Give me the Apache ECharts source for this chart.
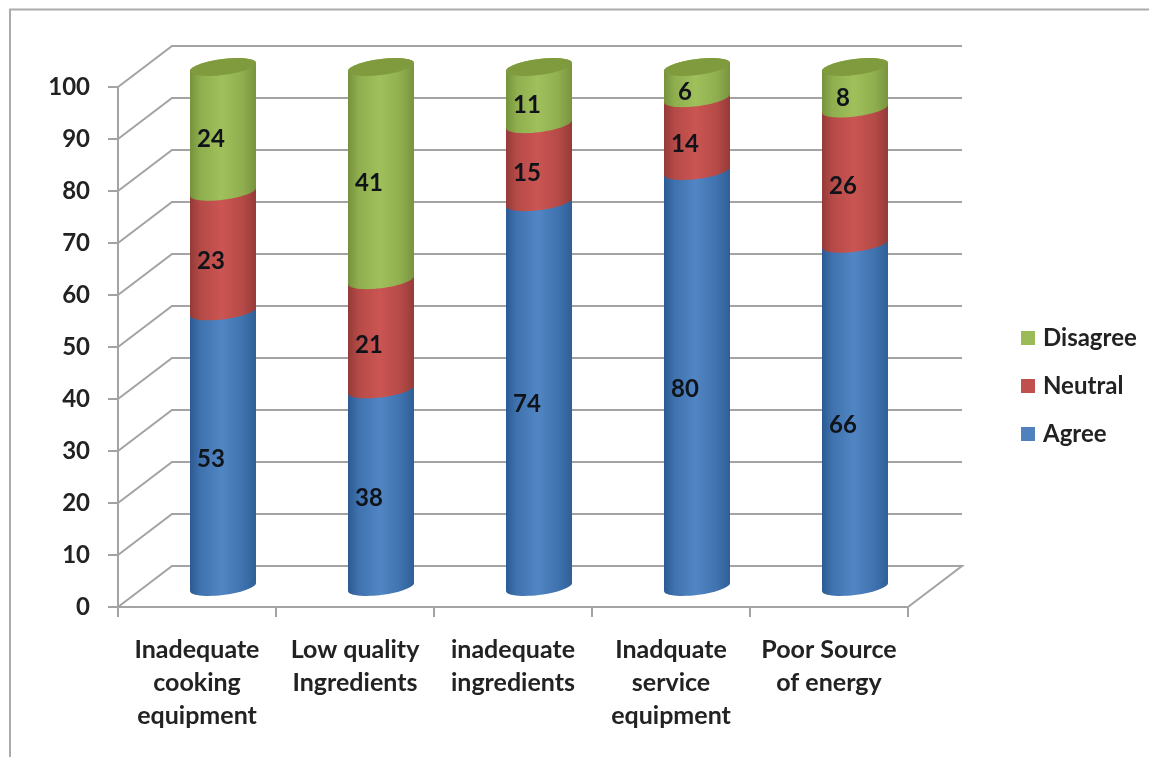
<!DOCTYPE html>
<html>
<head>
<meta charset="utf-8">
<style>html,body{margin:0;padding:0;background:#fff}#c{width:1149px;height:757px}</style>
<script src="https://cdn.jsdelivr.net/npm/echarts@6/dist/echarts.min.js"></script>
</head>
<body>
<div id="c"></div>
<script>
var categories = ['Inadequate\ncooking\nequipment', 'Low quality\nIngredients', 'inadequate\ningredients', 'Inadquate\nservice\nequipment', 'Poor Source\nof energy'];
var agree = [53, 38, 74, 80, 66];
var neutral = [23, 21, 15, 14, 26];
var disagree = [24, 41, 11, 6, 8];
var yTicks = [0, 10, 20, 30, 40, 50, 60, 70, 80, 90, 100];
var legendNames = ['Disagree', 'Neutral', 'Agree'];

var FONT = 'Lato, "Noto Sans", sans-serif';
var WEIGHT = 'bold';
var TEXT = '#222222';
var DEPTH_X = 54, DEPTH_Y = 41;
var BAR_DX = 26, BAR_DY = 20, RX = 33, RY = 8, SHEAR = 4;
var AXIS = '#a3a3a3';

function arcPts(cx, cy, from, to) {
  var pts = [], n = 28;
  for (var i = 0; i <= n; i++) {
    var t = from + (to - from) * i / n;
    pts.push([cx + RX * Math.cos(t), cy + RY * Math.sin(t) - SHEAR * Math.cos(t)]);
  }
  return pts;
}
function cylinderGrad(edgeL, mid, light, edgeR) {
  return new echarts.graphic.LinearGradient(0, 0, 1, 0, [
    { offset: 0, color: edgeL }, { offset: 0.16, color: mid }, { offset: 0.48, color: light },
    { offset: 0.8, color: mid }, { offset: 1, color: edgeR }
  ]);
}
function cylSeries(name, values, bases, base, grads, capColor) {
  var rows = values.map(function (v, i) { return [i, bases[i], bases[i] + v, v]; });
  return {
    type: 'custom', name: name, coordinateSystem: 'cartesian2d', z: 5,
    itemStyle: { color: base },
    encode: { x: 0, y: 2 },
    data: rows,
    renderItem: function (params, api) {
      var lo = api.coord([api.value(0), api.value(1)]);
      var hi = api.coord([api.value(0), api.value(2)]);
      var cx = lo[0] + BAR_DX;
      var pts = arcPts(cx, lo[1] - BAR_DY, Math.PI, 0)
        .concat(arcPts(cx, hi[1] - BAR_DY, 0, -Math.PI));
      var kids = [{ type: 'polygon', shape: { points: pts }, style: { fill: grads } }];
      if (capColor) {
        kids.push({ type: 'polygon', shape: { points: arcPts(cx, hi[1] - BAR_DY, 0, 2 * Math.PI) }, style: { fill: capColor } });
      }
      kids.push({
        type: 'text', z2: 10,
        style: {
          text: String(api.value(3)), x: lo[0] + 14, y: (lo[1] + hi[1]) / 2 - 10,
          align: 'center', verticalAlign: 'middle', font: WEIGHT + ' 24px ' + FONT, fill: '#10141a'
        }
      });
      return { type: 'group', children: kids };
    }
  };
}
var base1 = agree.map(function () { return 0; });
var base2 = agree.slice();
var base3 = agree.map(function (v, i) { return v + neutral[i]; });

var chart = echarts.init(document.getElementById('c'), null, { renderer: 'canvas' });
chart.setOption({
  animation: false,
  backgroundColor: '#ffffff',
  grid: { left: 118, right: 241, top: 87, bottom: 150 },
  graphic: [{
    type: 'polyline', silent: true,
    shape: { points: [[10, 757], [10, 9.5], [1149, 9.5]] },
    style: { stroke: '#ababab', lineWidth: 2, fill: null }
  }],
  legend: {
    orient: 'vertical', left: 1016, top: 321, itemWidth: 14, itemHeight: 14, itemGap: 24,
    icon: 'rect', data: legendNames,
    textStyle: { fontFamily: FONT, fontWeight: WEIGHT, fontSize: 24, color: TEXT, padding: [0, 0, 0, 3] }
  },
  xAxis: {
    type: 'category', data: categories,
    axisLine: { lineStyle: { color: AXIS, width: 2 } },
    axisTick: { show: true, length: 10, alignWithLabel: false, lineStyle: { color: AXIS, width: 2 } },
    axisLabel: { interval: 0, margin: 26, fontFamily: FONT, fontWeight: WEIGHT, fontSize: 25, color: TEXT, lineHeight: 33 }
  },
  yAxis: {
    type: 'value', min: 0, max: 100, interval: 10,
    splitLine: { show: false },
    axisLine: { show: true, lineStyle: { color: AXIS, width: 2 } },
    axisTick: { show: true, length: 10, lineStyle: { color: AXIS, width: 2 } },
    axisLabel: { margin: 28, fontFamily: FONT, fontWeight: WEIGHT, fontSize: 24, color: TEXT, padding: [3, 0, 0, 0] }
  },
  series: [
    {
      type: 'custom', name: 'walls', coordinateSystem: 'cartesian2d', z: 1, silent: true,
      encode: { y: 0 },
      data: yTicks.map(function (t) { return [t]; }),
      renderItem: function (params, api) {
        var cs = params.coordSys;
        var y = api.coord([0, api.value(0)])[1];
        var pts = [[cs.x, y], [cs.x + DEPTH_X, y - DEPTH_Y], [cs.x + cs.width + DEPTH_X, y - DEPTH_Y]];
        if (api.value(0) === 0) pts.push([cs.x + cs.width, y]);
        return { type: 'polyline', shape: { points: pts }, style: { stroke: AXIS, lineWidth: 2, fill: null } };
      }
    },
    cylSeries('Agree', agree, base1, '#4f81bd', cylinderGrad('#2c5a92', '#3f72ae', '#5186c4', '#2f5f96')),
    cylSeries('Neutral', neutral, base2, '#c0504d', cylinderGrad('#943a37', '#b54a47', '#cb5552', '#953b38')),
    cylSeries('Disagree', disagree, base3, '#9bbb59', cylinderGrad('#76923c', '#8fae4e', '#a0c05c', '#78943e'), '#7f9b3d')
  ]
});
</script>
</body>
</html>
